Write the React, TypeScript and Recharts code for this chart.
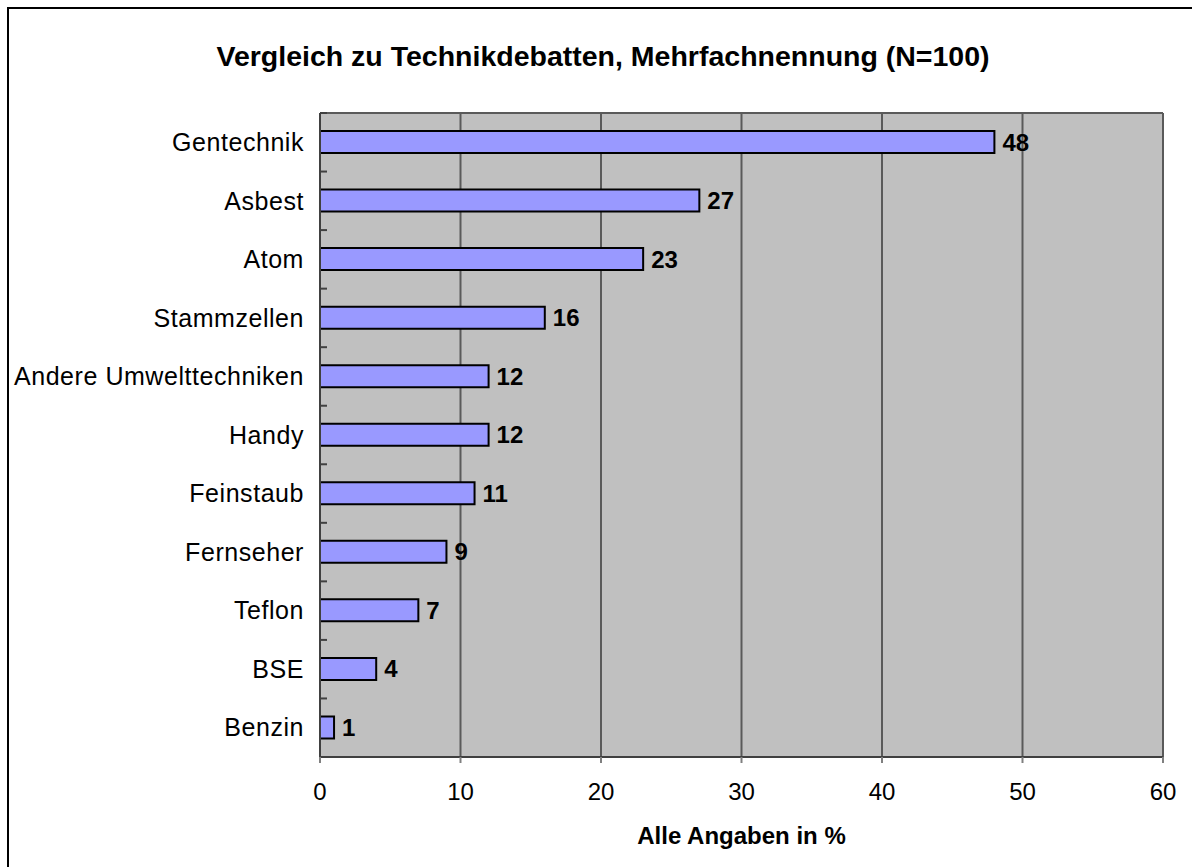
import React from "react";
import { BarChart, Bar, XAxis, YAxis, CartesianGrid, LabelList, Label } from "recharts";

const categories = [
  "Gentechnik",
  "Asbest",
  "Atom",
  "Stammzellen",
  "Andere Umwelttechniken",
  "Handy",
  "Feinstaub",
  "Fernseher",
  "Teflon",
  "BSE",
  "Benzin",
];
const values = [48, 27, 23, 16, 12, 12, 11, 9, 7, 4, 1];
const xTicks = [0, 10, 20, 30, 40, 50, 60];
const title = "Vergleich zu Technikdebatten, Mehrfachnennung (N=100)";
const xAxisTitle = "Alle Angaben in %";

const data = categories.map((name, i) => ({ name, value: values[i] }));

const W = 1183;
const H = 858;
const M = { top: 104, right: 29, left: 0, bottom: 0 };
const Y_W = 311;
const X_H = 110;
const PLOT_H = H - M.top - M.bottom - X_H;
const BAND = PLOT_H / categories.length;
const FONT = "'Liberation Sans', Arial, sans-serif";

const CatTick = (props: any) => {
  const { x, y, payload } = props;
  const axisX = x + 16;
  return (
    <g>
      <text
        x={x}
        y={y}
        dy="0.35em"
        textAnchor="end"
        fontFamily={FONT}
        fontSize={25}
        letterSpacing={0.55}
        fill="#000"
      >
        {payload.value}
      </text>
      <line x1={axisX} x2={axisX + 7} y1={y - BAND / 2} y2={y - BAND / 2} stroke="#404040" strokeWidth={2} />
    </g>
  );
};

export default function App() {
  return (
    <div
      style={{
        position: "absolute",
        left: 7,
        top: 7,
        width: W,
        height: H,
        borderLeft: "2px solid #000",
        borderTop: "2px solid #000",
        background: "#fff",
        overflow: "hidden",
      }}
    >
      <svg width={W} height={80} style={{ position: "absolute", left: 0, top: 0 }}>
        <text
          x={594}
          y={57}
          textAnchor="middle"
          fontFamily={FONT}
          fontWeight="bold"
          fontSize={28.5}
          fill="#000"
        >
          {title}
        </text>
      </svg>
      <div style={{ position: "absolute", left: 0, top: 0 }}>
        <BarChart width={W} height={H} data={data} layout="vertical" margin={M} barSize={22}>
          <CartesianGrid
            horizontal={true}
            vertical={true}
            fill="#C0C0C0"
            stroke="#5a5a5a"
            strokeWidth={2}
            horizontalCoordinatesGenerator={({ offset }: any) => [offset.top]}
          />
          <XAxis
            type="number"
            domain={[0, 60]}
            ticks={xTicks}
            interval={0}
            height={X_H}
            tickSize={6}
            tickMargin={20}
            axisLine={{ stroke: "#404040", strokeWidth: 2 }}
            tickLine={{ stroke: "#808080", strokeWidth: 2 }}
            tick={{ fontFamily: FONT, fontSize: 24, fill: "#000" }}
          >
            <Label
              value={xAxisTitle}
              position="insideBottom"
              offset={23}
              style={{ fontFamily: FONT, fontSize: 24, fontWeight: "bold", fill: "#000" }}
            />
          </XAxis>
          <YAxis
            type="category"
            dataKey="name"
            width={Y_W}
            interval={0}
            tickSize={0}
            tickMargin={16}
            tickLine={false}
            axisLine={{ stroke: "#404040", strokeWidth: 2 }}
            tick={<CatTick />}
          />
          <Bar dataKey="value" fill="#9999FF" stroke="#000" strokeWidth={2} isAnimationActive={false}>
            <LabelList
              dataKey="value"
              position="right"
              offset={8}
              style={{ fontFamily: FONT, fontSize: 24, fontWeight: "bold", fill: "#000" }}
            />
          </Bar>
        </BarChart>
      </div>
    </div>
  );
}
